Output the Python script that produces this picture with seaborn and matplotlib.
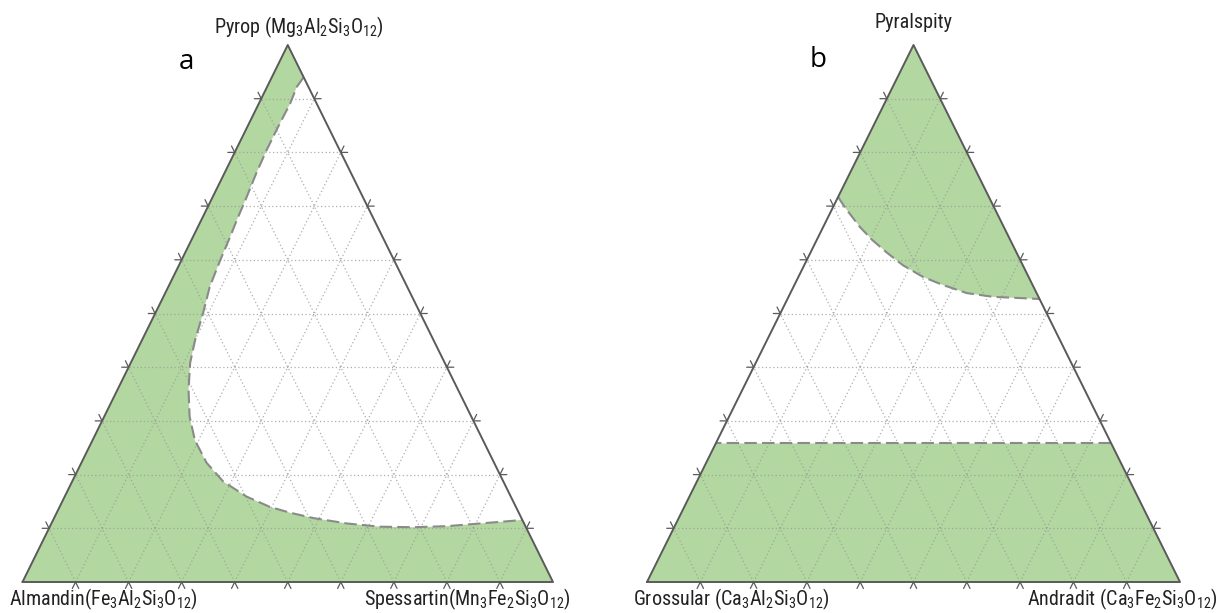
import matplotlib
matplotlib.use("Agg")
import numpy as np
import pandas as pd
import matplotlib.pyplot as plt
import seaborn as sns
from matplotlib import font_manager

# panel a: boundary of the white field (fractions)
left_pyrop = [0.940, 0.922, 0.891, 0.848, 0.804, 0.762, 0.718, 0.674, 0.643, 0.600,
              0.550, 0.501, 0.451, 0.408, 0.358, 0.308, 0.264, 0.222, 0.187, 0.159,
              0.140, 0.129, 0.119, 0.109, 0.103, 0.102, 0.104, 0.109, 0.114, 0.116]
left_spess = [0.060, 0.056, 0.059, 0.058, 0.058, 0.060, 0.064, 0.067, 0.070, 0.073,
              0.078, 0.090, 0.100, 0.112, 0.134, 0.161, 0.193, 0.236, 0.285, 0.343,
              0.396, 0.440, 0.489, 0.557, 0.622, 0.686, 0.748, 0.808, 0.868, 0.884]

# panel b: upper field (pyralspite rich) and lower field
right_py_upper = [0.717, 0.698, 0.661, 0.637, 0.613, 0.590, 0.568, 0.553, 0.538, 0.531, 0.529, 0.527]
right_an_upper = [0.000, 0.022, 0.069, 0.104, 0.144, 0.185, 0.234, 0.279, 0.331, 0.384, 0.430, 0.473]
right_py_lower = [0.258, 0.258]
right_an_lower = [0.742, 0.000]

labels_a = ["Pyrop (Mg$_3$Al$_2$Si$_3$O$_{12}$)",
            "Almandin(Fe$_3$Al$_2$Si$_3$O$_{12}$)",
            "Spessartin(Mn$_3$Fe$_2$Si$_3$O$_{12}$)"]
labels_b = ["Pyralspity",
            "Grossular (Ca$_3$Al$_2$Si$_3$O$_{12}$)",
            "Andradit (Ca$_3$Fe$_2$Si$_3$O$_{12}$)"]
ticks = [k / 10 for k in range(1, 10)]

sns.set_style("white")

# narrow sans for the labels, whichever is there
pref = ["Liberation Sans Narrow", "Roboto Condensed", "Noto Sans Condensed",
        "Open Sans Condensed", "Arial Narrow"]
names = {f.name for f in font_manager.fontManager.ttflist}
lab_font, lab_stretch = "Liberation Sans", "normal"
for n in pref:
    if n in names:
        lab_font = n
        break
else:
    for f in font_manager.fontManager.ttflist:
        if (f.name in ("Noto Sans", "Open Sans", "Roboto") and "condensed" in str(f.stretch)
                and f.style == "normal" and str(f.weight) in ("400", "normal", "regular")):
            lab_font, lab_stretch = f.name, f.stretch
            break

plt.rcParams["font.family"] = [lab_font, "DejaVu Sans"]
plt.rcParams["font.stretch"] = lab_stretch
plt.rcParams["mathtext.fontset"] = "custom"
for key in ("mathtext.rm", "mathtext.it", "mathtext.bf"):
    try:
        plt.rcParams[key] = lab_font + ":stretch=" + lab_stretch
    except Exception:
        plt.rcParams[key] = lab_font

GREEN = "#b3d7a0"
EDGE = "#5a5a5a"
GRID = "#9a9a9a"
DASH = "#8a8a8a"

W, H = 1221, 613


def to_xy(top, right):
    top = np.asarray(top, float)
    right = np.asarray(right, float)
    return right + 0.5 * top, top


def frame(ax):
    # dotted grid in the three directions
    for t in ticks:
        ax.plot([0.5 * t, 1 - 0.5 * t], [t, t], color=GRID, lw=0.9, ls=(0, (1, 2)), alpha=0.8, zorder=2)
        ax.plot([t, t + 0.5 * (1 - t)], [0, 1 - t], color=GRID, lw=0.9, ls=(0, (1, 2)), alpha=0.8, zorder=2)
        ax.plot([1 - t, 0.5 * (1 - t)], [0, 1 - t], color=GRID, lw=0.9, ls=(0, (1, 2)), alpha=0.8, zorder=2)
    # outline
    ax.plot([0, 1, 0.5, 0], [0, 0, 1, 0], color=EDGE, lw=1.4, zorder=4, clip_on=False)
    # short tick marks outside the edges
    s = 0.012
    h = 0.013
    for t in ticks:
        ax.plot([t - 0.5 * s, t, t + 0.5 * s], [-s, 0, -s], color=EDGE, lw=0.9, zorder=4, clip_on=False)
        x0, y0 = 0.5 * t, t
        ax.plot([x0 - h, x0, x0 - 0.5 * s], [y0, y0, y0 + s], color=EDGE, lw=0.9, zorder=4, clip_on=False)
        x0, y0 = 1 - 0.5 * t, t
        ax.plot([x0 + h, x0, x0 + 0.5 * s], [y0, y0, y0 + s], color=EDGE, lw=0.9, zorder=4, clip_on=False)
    ax.set_xlim(0, 1)
    ax.set_ylim(0, 1)
    ax.set_axis_off()


def boundary(ax, top, right):
    x, y = to_xy(top, right)
    df = pd.DataFrame({"x": x, "y": y})
    sns.lineplot(data=df, x="x", y="y", sort=False, estimator=None, ax=ax,
                 color=DASH, lw=1.5, linestyle=(0, (6, 2.5)), zorder=3)


fig = plt.figure(figsize=(W / 100, H / 100), dpi=100)
ax1 = fig.add_axes([22.5 / W, 31 / H, 530.5 / W, 537 / H])
ax2 = fig.add_axes([647 / W, 31 / H, 533 / W, 537 / H])

# panel a
bx, by = to_xy(left_pyrop, left_spess)
vx, vy = to_xy([0, 0, 1], [1, 0, 0])
ax1.fill(np.r_[bx, vx], np.r_[by, vy], color=GREEN, lw=0, zorder=1)
boundary(ax1, left_pyrop, left_spess)
frame(ax1)

# panel b
ux, uy = to_xy(right_py_upper, right_an_upper)
tx, ty = to_xy([1], [0])
ax2.fill(np.r_[ux, tx], np.r_[uy, ty], color=GREEN, lw=0, zorder=1)
lx, ly = to_xy(right_py_lower, right_an_lower)
cx, cy = to_xy([0, 0], [0, 1])
ax2.fill(np.r_[cx, lx], np.r_[cy, ly], color=GREEN, lw=0, zorder=1)
boundary(ax2, right_py_upper, right_an_upper)
boundary(ax2, right_py_lower, right_an_lower)
frame(ax2)


def ftext(px, py, s, color="#222222", **kw):
    fig.text(px / W, 1 - py / H, s, color=color, **kw)


fs = 14.5
ftext(299, 33, labels_a[0], ha="center", va="baseline", fontsize=fs)
ftext(9, 605, labels_a[1], ha="left", va="baseline", fontsize=fs)
ftext(571, 605, labels_a[2], ha="right", va="baseline", fontsize=fs)
ftext(913, 28, labels_b[0], ha="center", va="baseline", fontsize=fs)
ftext(633, 605, labels_b[1], ha="left", va="baseline", fontsize=fs)
ftext(1218, 605, labels_b[2], ha="right", va="baseline", fontsize=fs)
ftext(186, 62, "a", ha="center", va="center", fontsize=20, family=["Open Sans", "DejaVu Sans"], color="black")
ftext(818, 60, "b", ha="center", va="center", fontsize=20, family=["Open Sans", "DejaVu Sans"], color="black")

fig.savefig("out.png", dpi=100)
